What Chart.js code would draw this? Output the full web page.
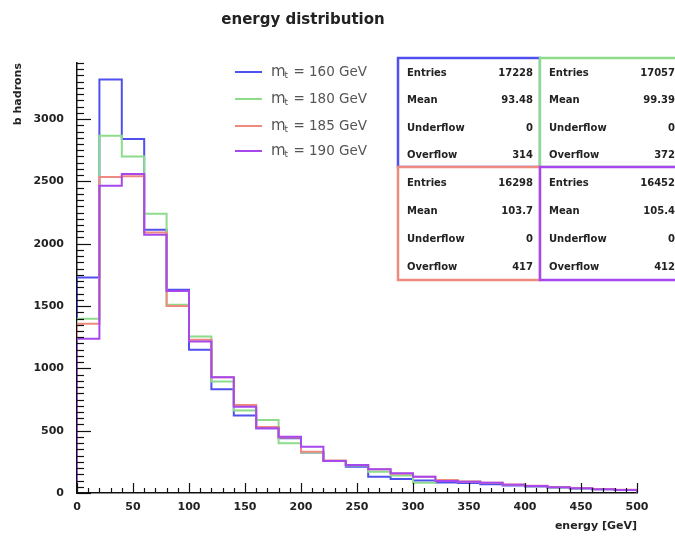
<!DOCTYPE html>
<html>
<head>
<meta charset="utf-8">
<script src="https://cdn.jsdelivr.net/npm/chart.js@4.4.0/dist/chart.umd.min.js"></script>
<style>
  html, body { margin: 0; padding: 0; background: #fff; }
  #wrap { width: 675px; height: 537px; }
</style>
</head>
<body>
<div id="wrap"><canvas id="energy-chart" width="675" height="537"></canvas></div>
<script>
// bin edges of the histogram (GeV), 20 GeV wide
const binEdges = [0, 20, 40, 60, 80, 100, 120, 140, 160, 180, 200, 220, 240, 260, 280, 300, 320, 340, 360, 380, 400, 420, 440, 460, 480, 500];

// bin contents, one per bin
const m160 = [1730, 3317, 2841, 2112, 1630, 1149, 833, 621, 520, 440, 324, 257, 211, 131, 112, 100, 85, 80, 70, 60, 52, 44, 36, 30, 24];
const m180 = [1398, 2867, 2699, 2241, 1510, 1255, 894, 661, 586, 399, 324, 257, 220, 170, 140, 83, 100, 90, 80, 65, 55, 45, 38, 30, 25];
const m185 = [1357, 2536, 2541, 2090, 1500, 1229, 929, 707, 530, 445, 330, 260, 225, 190, 155, 131, 104, 92, 83, 68, 58, 48, 40, 32, 26];
const m190 = [1237, 2466, 2560, 2072, 1620, 1215, 929, 693, 520, 452, 372, 257, 225, 190, 158, 131, 96, 91, 83, 66, 57, 47, 38, 31, 25];

const seriesNames = ['160 GeV', '180 GeV', '185 GeV', '190 GeV'];
const seriesColors = ['#5050ee', '#8cdc8c', '#ee8a80', '#a648ee'];

// stats boxes: Entries, Mean, Underflow, Overflow
const statLabels = ['Entries', 'Mean', 'Underflow', 'Overflow'];
const stats160 = ['17228', '93.48', '0', '314'];
const stats180 = ['17057', '99.39', '0', '372'];
const stats185 = ['16298', '103.7', '0', '417'];
const stats190 = ['16452', '105.4', '0', '412'];

const yTicks = [0, 500, 1000, 1500, 2000, 2500, 3000];

function toSteps(vals) {
    // start and end on the baseline so the outer edges are drawn too
    let pts = [{ x: binEdges[0], y: 0 }];
    vals.forEach((v, i) => pts.push({ x: binEdges[i], y: v }));
    pts.push({ x: binEdges[binEdges.length - 1], y: 0 });
    return pts;
}

const allSeries = [m160, m180, m185, m190];

const datasets = allSeries.map((vals, i) => ({
    label: seriesNames[i],
    data: toSteps(vals),
    stepped: 'before',
    borderColor: seriesColors[i],
    borderWidth: 2,
    pointRadius: 0,
    fill: false,
    order: 3 - i
}));

const FONT = 'DejaVu Sans';

// ROOT-like extras: inner ticks, title, legend, stat boxes
const rootDecor = {
    id: 'rootDecor',
    afterDraw(chart) {
        const ctx = chart.ctx;
        const xs = chart.scales.x, ys = chart.scales.y;
        const area = chart.chartArea;
        ctx.save();
        ctx.strokeStyle = '#111';
        ctx.lineWidth = 1.2;
        // y ticks, pointing into the plot
        for (let v = 0; v <= ys.max; v += 50) {
            const py = Math.round(ys.getPixelForValue(v)) + 0.5;
            const len = v % 500 === 0 ? 14 : 7;
            ctx.beginPath();
            ctx.moveTo(area.left, py);
            ctx.lineTo(area.left + len, py);
            ctx.stroke();
        }
        // x ticks
        for (let v = 0; v <= xs.max; v += 10) {
            const px = Math.round(xs.getPixelForValue(v)) + 0.5;
            const len = v % 50 === 0 ? 10 : 5;
            ctx.beginPath();
            ctx.moveTo(px, area.bottom);
            ctx.lineTo(px, area.bottom - len);
            ctx.stroke();
        }

        // title
        ctx.fillStyle = '#222';
        ctx.font = 'bold 15px ' + FONT;
        ctx.textAlign = 'center';
        ctx.textBaseline = 'middle';
        ctx.fillText('energy distribution', 303, 20);

        // legend
        const legY = [72, 99, 126, 151];
        seriesNames.forEach((name, i) => {
            const y = legY[i];
            ctx.strokeStyle = seriesColors[i];
            ctx.lineWidth = 2;
            ctx.beginPath();
            ctx.moveTo(235, y);
            ctx.lineTo(262, y);
            ctx.stroke();
            ctx.fillStyle = '#555';
            ctx.textAlign = 'left';
            ctx.textBaseline = 'middle';
            ctx.font = '15px ' + FONT;
            ctx.fillText('m', 271, y);
            let w = ctx.measureText('m').width;
            ctx.font = '9px ' + FONT;
            ctx.fillText('t', 271 + w - 1, y + 4);
            w += ctx.measureText('t').width;
            ctx.font = '13.5px ' + FONT;
            ctx.fillText(' = ' + name, 271 + w, y);
        });

        // stat boxes
        const boxes = [
            { x: 398, y: 58, w: 142, h: 109, c: seriesColors[0], s: stats160 },
            { x: 540, y: 58, w: 150, h: 109, c: seriesColors[1], s: stats180 },
            { x: 398, y: 167, w: 142, h: 113, c: seriesColors[2], s: stats185 },
            { x: 540, y: 167, w: 150, h: 113, c: seriesColors[3], s: stats190 }
        ];
        boxes.forEach(b => {
            ctx.fillStyle = '#fff';
            ctx.fillRect(b.x, b.y, b.w, b.h);
            ctx.strokeStyle = b.c;
            ctx.lineWidth = 2.5;
            ctx.strokeRect(b.x, b.y, b.w, b.h);
            ctx.fillStyle = '#222';
            ctx.font = 'bold 10px ' + FONT;
            ctx.textBaseline = 'middle';
            const step = b.h / 4;
            statLabels.forEach((lab, k) => {
                const ty = b.y + step * (k + 0.5) + 2;
                ctx.textAlign = 'left';
                ctx.fillText(lab, b.x + 9, ty);
                ctx.textAlign = 'right';
                ctx.fillText(b.s[k], Math.min(b.x + 135, 675), ty);
            });
        });
        ctx.restore();
    }
};

const ctx = document.getElementById('energy-chart').getContext('2d');
const chart = new Chart(ctx, {
    type: 'line',
    data: { datasets: datasets },
    plugins: [rootDecor],
    options: {
        responsive: false,
        animation: false,
        layout: { padding: { left: 12, top: 63, right: 38, bottom: 0 } },
        plugins: {
            legend: { display: false },
            title: { display: false },
            tooltip: { enabled: false }
        },
        scales: {
            x: {
                type: 'linear',
                min: 0,
                max: 500,
                grid: { display: false },
                border: { display: true, color: '#111', width: 1.5 },
                ticks: {
                    stepSize: 50,
                    color: '#222',
                    font: { family: FONT, size: 11, weight: 'bold' },
                    padding: 0,
                    maxRotation: 0,
                    callback: v => String(v)
                },
                title: {
                    display: true,
                    text: 'energy [GeV]',
                    align: 'end',
                    color: '#222',
                    font: { family: FONT, size: 11, weight: 'bold' },
                    padding: { top: 4 }
                },
                afterFit(scale) { scale.height = 44; }
            },
            y: {
                type: 'linear',
                min: 0,
                max: 3450,
                grid: { display: false },
                border: { display: true, color: '#111', width: 1.5 },
                afterBuildTicks(scale) {
                    scale.ticks = yTicks.map(v => ({ value: v }));
                },
                ticks: {
                    color: '#222',
                    font: { family: FONT, size: 11, weight: 'bold' },
                    padding: 5,
                    callback: v => String(v)
                },
                title: {
                    display: true,
                    text: 'b hadrons',
                    align: 'end',
                    color: '#222',
                    font: { family: FONT, size: 11, weight: 'bold' },
                    padding: 0
                },
                afterFit(scale) { scale.width = 65; }
            }
        }
    }
});
</script>
</body>
</html>
